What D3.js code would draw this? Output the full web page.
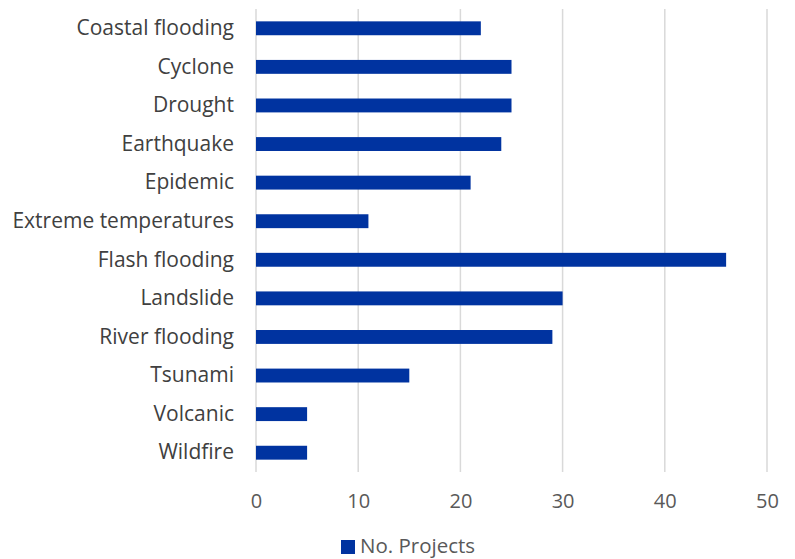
<!DOCTYPE html>
<html>
<head>
<meta charset="utf-8">
<script src="https://cdn.jsdelivr.net/npm/d3@7"></script>
<style>
  html, body { margin: 0; padding: 0; background: #fff; }
  svg { display: block; }
  text { font-family: "Open Sans", "Liberation Sans", sans-serif; }
</style>
</head>
<body>
<svg id="chart" width="795" height="559"></svg>
<script>
// Hazard types and number of projects addressing each
const categories = ["Coastal flooding", "Cyclone", "Drought", "Earthquake", "Epidemic",
  "Extreme temperatures", "Flash flooding", "Landslide", "River flooding", "Tsunami",
  "Volcanic", "Wildfire"];
const projects = [22, 25, 25, 24, 21, 11, 46, 30, 29, 15, 5, 5];
const xTicks = [0, 10, 20, 30, 40, 50];
const seriesName = "No. Projects";

const svg = d3.select("#chart");
const barColor = "#0033a0";

const x = d3.scaleLinear().domain([0, 50]).range([256, 767]);
const y = d3.scaleBand().domain(categories).range([9, 472]).paddingInner(0.64).paddingOuter(0.32);

// vertical gridlines
svg.append("g")
  .selectAll("line")
  .data(xTicks)
  .join("line")
  .attr("x1", d => x(d)).attr("x2", d => x(d))
  .attr("y1", 9).attr("y2", 472)
  .attr("stroke", "#d9d9d9")
  .attr("stroke-width", 1.5);

// bars
svg.append("g")
  .selectAll("rect")
  .data(categories)
  .join("rect")
  .attr("x", x(0))
  .attr("y", d => y(d))
  .attr("width", (d, i) => x(projects[i]) - x(0))
  .attr("height", y.bandwidth())
  .attr("fill", barColor);

// category axis
const yAxis = svg.append("g")
  .attr("transform", `translate(${x(0)},0)`)
  .call(d3.axisLeft(y).tickSize(0).tickPadding(22));
yAxis.select(".domain").remove();
yAxis.selectAll("text")
  .attr("fill", "#404040")
  .style("font-size", "21px")
  .style("font-family", "'Open Sans', 'Liberation Sans', sans-serif");

// value axis
const xAxis = svg.append("g")
  .attr("transform", "translate(0,494)")
  .call(d3.axisBottom(x).tickValues(xTicks).tickSize(0).tickPadding(0));
xAxis.select(".domain").remove();
xAxis.selectAll("text")
  .attr("fill", "#595959")
  .style("font-size", "20px")
  .style("font-family", "'Open Sans', 'Liberation Sans', sans-serif");

// legend
const legend = svg.append("g").attr("transform", "translate(341,540)");
legend.append("rect").attr("width", 14).attr("height", 14).attr("fill", barColor);
legend.append("text")
  .attr("x", 19).attr("y", 6).attr("dy", "0.35em")
  .attr("fill", "#595959")
  .style("font-size", "20.5px")
  .text(seriesName);
</script>
</body>
</html>
